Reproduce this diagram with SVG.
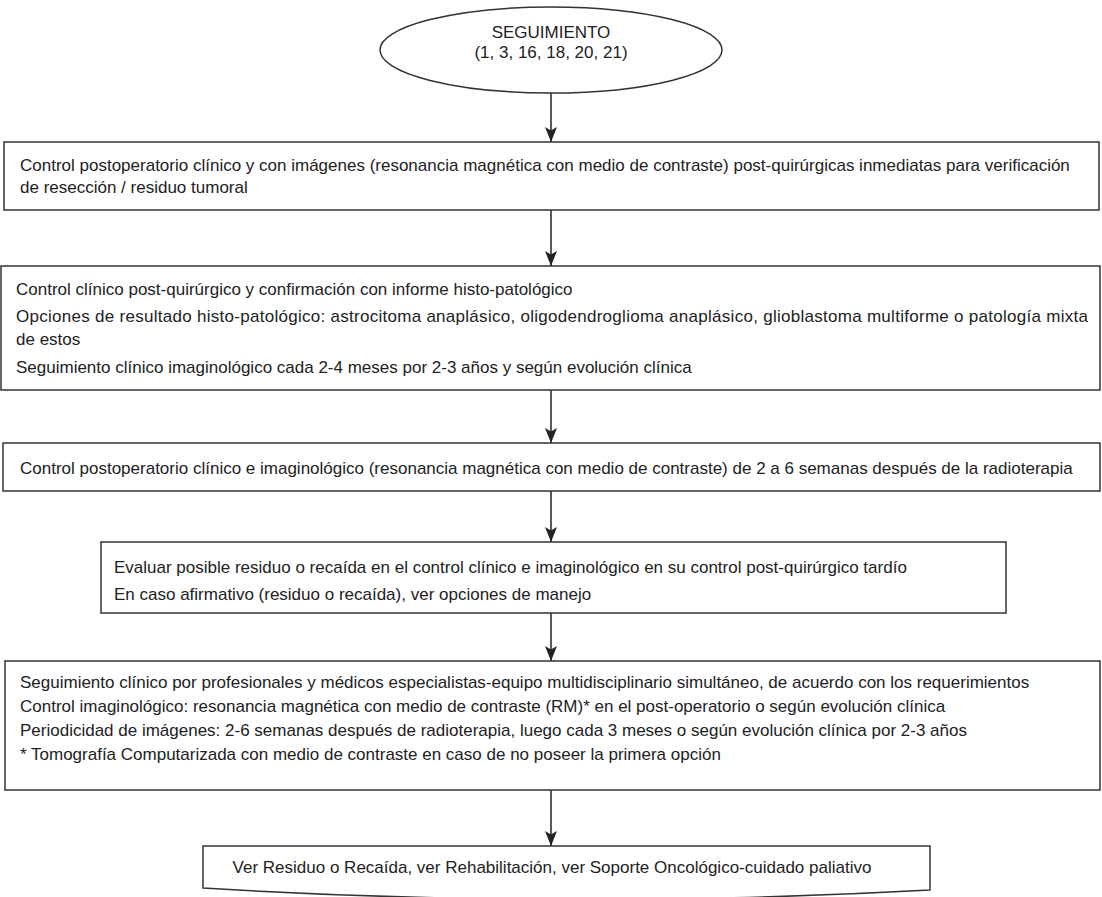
<svg xmlns="http://www.w3.org/2000/svg" width="1102" height="897" viewBox="0 0 1102 897">
<defs>
<style>
.box{fill:#fff;stroke:#333;stroke-width:1.5}
.t{font-family:"Liberation Sans",Arial,sans-serif;font-size:17px;fill:#222}
.c{text-anchor:middle}
.ln{stroke:#222;stroke-width:1.5;fill:none}
</style>
<marker id="ah" viewBox="0 0 15 12" refX="15" refY="6" markerWidth="15" markerHeight="12" markerUnits="userSpaceOnUse" orient="auto">
<path d="M0,0 L15,6 L0,12 L3.5,6 Z" fill="#222"/>
</marker>
</defs>
<rect width="1102" height="897" fill="#fff"/>
<g id="connectors">
<line class="ln" x1="551" y1="93" x2="551" y2="142" marker-end="url(#ah)"/>
<line class="ln" x1="551" y1="210" x2="551" y2="266" marker-end="url(#ah)"/>
<line class="ln" x1="551" y1="390" x2="551" y2="443" marker-end="url(#ah)"/>
<line class="ln" x1="551" y1="491" x2="551" y2="542" marker-end="url(#ah)"/>
<line class="ln" x1="551" y1="613" x2="551" y2="661" marker-end="url(#ah)"/>
<line class="ln" x1="551" y1="790" x2="551" y2="846" marker-end="url(#ah)"/>
</g>
<g id="n0">
<ellipse class="box" cx="551" cy="50" rx="171" ry="43"/>
<text class="t c" x="551" y="38">SEGUIMIENTO</text>
<text class="t c" x="551" y="58">(1, 3, 16, 18, 20, 21)</text>
</g>
<g id="n1">
<rect class="box" x="4" y="142" width="1095" height="68"/>
<text class="t" x="20" y="171">Control postoperatorio clínico y con imágenes (resonancia magnética con medio de contraste) post-quirúrgicas inmediatas para verificación</text>
<text class="t" x="20" y="193">de resección / residuo tumoral</text>
</g>
<g id="n2">
<rect class="box" x="1" y="266" width="1099" height="124"/>
<text class="t" x="16" y="295">Control clínico post-quirúrgico y confirmación con informe histo-patológico</text>
<text class="t" x="16" y="322" textLength="1072" lengthAdjust="spacing">Opciones de resultado histo-patológico: astrocitoma anaplásico, oligodendroglioma anaplásico, glioblastoma multiforme o patología mixta</text>
<text class="t" x="16" y="345">de estos</text>
<text class="t" x="16" y="373">Seguimiento clínico imaginológico cada 2-4 meses por 2-3 años y según evolución clínica</text>
</g>
<g id="n3">
<rect class="box" x="3" y="443" width="1097" height="48"/>
<text class="t" x="20" y="474">Control postoperatorio clínico e imaginológico (resonancia magnética con medio de contraste) de 2 a 6 semanas después de la radioterapia</text>
</g>
<g id="n4">
<rect class="box" x="101" y="542" width="905" height="71"/>
<text class="t" x="114" y="573">Evaluar posible residuo o recaída en el control clínico e imaginológico en su control post-quirúrgico tardío</text>
<text class="t" x="114" y="600">En caso afirmativo (residuo o recaída), ver opciones de manejo</text>
</g>
<g id="n5">
<rect class="box" x="5" y="661" width="1095" height="129"/>
<text class="t" x="20" y="688">Seguimiento clínico por profesionales y médicos especialistas-equipo multidisciplinario simultáneo, de acuerdo con los requerimientos</text>
<text class="t" x="20" y="712">Control imaginológico: resonancia magnética con medio de contraste (RM)* en el post-operatorio o según evolución clínica</text>
<text class="t" x="20" y="736">Periodicidad de imágenes: 2-6 semanas después de radioterapia, luego cada 3 meses o según evolución clínica por 2-3 años</text>
<text class="t" x="20" y="760">* Tomografía Computarizada con medio de contraste en caso de no poseer la primera opción</text>
</g>
<g id="n6">
<path class="box" d="M203,846 H930 V890 Q566,910 203,888 Z"/>
<text class="t c" x="552" y="873">Ver Residuo o Recaída, ver Rehabilitación, ver Soporte Oncológico-cuidado paliativo</text>
</g>
</svg>
